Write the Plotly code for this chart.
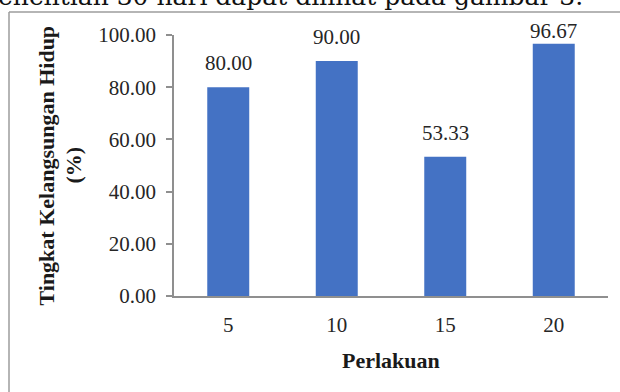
import plotly.graph_objects as go

# ---- data ----
categories = ["5", "10", "15", "20"]
survival = [80.00, 90.00, 53.33, 96.67]
y_ticks = [0, 20, 40, 60, 80, 100]
y_title = "Tingkat Kelangsungan Hidup"
y_unit = "(%)"
x_title = "Perlakuan"
header_text = "penelitian 30 hari dapat dilihat pada gambar 3."

W, H = 620, 392
L, R, T, B = 174, 12, 35, 96
pw, ph = W - L - R, H - T - B

def px_x(p):
    return (p - L) / pw

def px_y(p):
    return (H - B - p) / ph

SERIF = "Liberation Serif, Times New Roman, serif"
AX = "#8f8f8f"
LABEL_CEIL = 92.3  # labels cannot rise above the chart area (as in Excel)

fig = go.Figure()
fig.add_trace(go.Bar(
    x=categories, y=survival,
    marker=dict(color="#4472C4", line=dict(width=0)),
    hoverinfo="skip",
))

annotations = []
for i, v in enumerate(survival):
    annotations.append(dict(
        x=i, y=min(v, LABEL_CEIL), xref="x", yref="y",
        text=f"{v:.2f}", showarrow=False, yanchor="bottom", yshift=10,
        font=dict(family=SERIF, size=21, color="#262626"),
    ))

annotations.append(dict(
    x=px_x(46), y=0.5, xref="paper", yref="paper", text=y_title,
    textangle=-90, showarrow=False, xanchor="center", yanchor="middle",
    font=dict(family=SERIF, size=22, color="#1a1a1a", weight="bold"),
))
annotations.append(dict(
    x=px_x(73), y=0.5, xref="paper", yref="paper", text=y_unit,
    textangle=-90, showarrow=False, xanchor="center", yanchor="middle",
    font=dict(family=SERIF, size=22, color="#1a1a1a", weight="bold"),
))
annotations.append(dict(
    x=0.5, y=px_y(361), xref="paper", yref="paper", text=x_title,
    showarrow=False, xanchor="center", yanchor="middle",
    font=dict(family=SERIF, size=22, color="#1a1a1a", weight="bold"),
))
annotations.append(dict(
    x=px_x(585), y=px_y(13), xref="paper", yref="paper", text=header_text,
    showarrow=False, xanchor="right", yanchor="bottom",
    font=dict(family="DejaVu Serif, serif", size=25, color="#111111"),
))

shapes = [
    dict(type="line", xref="paper", yref="paper",
         x0=px_x(9), x1=px_x(640), y0=px_y(12), y1=px_y(12),
         line=dict(color="#9c9c9c", width=1.5)),
    dict(type="line", xref="paper", yref="paper",
         x0=px_x(9), x1=px_x(9), y0=px_y(12), y1=px_y(410),
         line=dict(color="#9c9c9c", width=1.5)),
]

fig.update_layout(
    width=W, height=H,
    margin=dict(l=L, r=R, t=T, b=B, pad=0),
    paper_bgcolor="white", plot_bgcolor="white",
    showlegend=False, bargap=0.613,
    annotations=annotations, shapes=shapes,
    xaxis=dict(
        type="category", range=[-0.5, len(categories) - 0.5],
        showline=True, linecolor=AX, linewidth=1.5,
        ticks="", showgrid=False, zeroline=False, ticklabelstandoff=9,
        tickfont=dict(family=SERIF, size=21, color="#262626"),
    ),
    yaxis=dict(
        range=[0, 100], tickvals=y_ticks, tickformat=".2f",
        showline=True, linecolor=AX, linewidth=1.5,
        ticks="outside", ticklen=6, tickwidth=1.5, tickcolor=AX,
        ticklabelstandoff=6, showgrid=False, zeroline=False,
        tickfont=dict(family=SERIF, size=21, color="#262626"),
    ),
)

fig.write_html("out.html")
